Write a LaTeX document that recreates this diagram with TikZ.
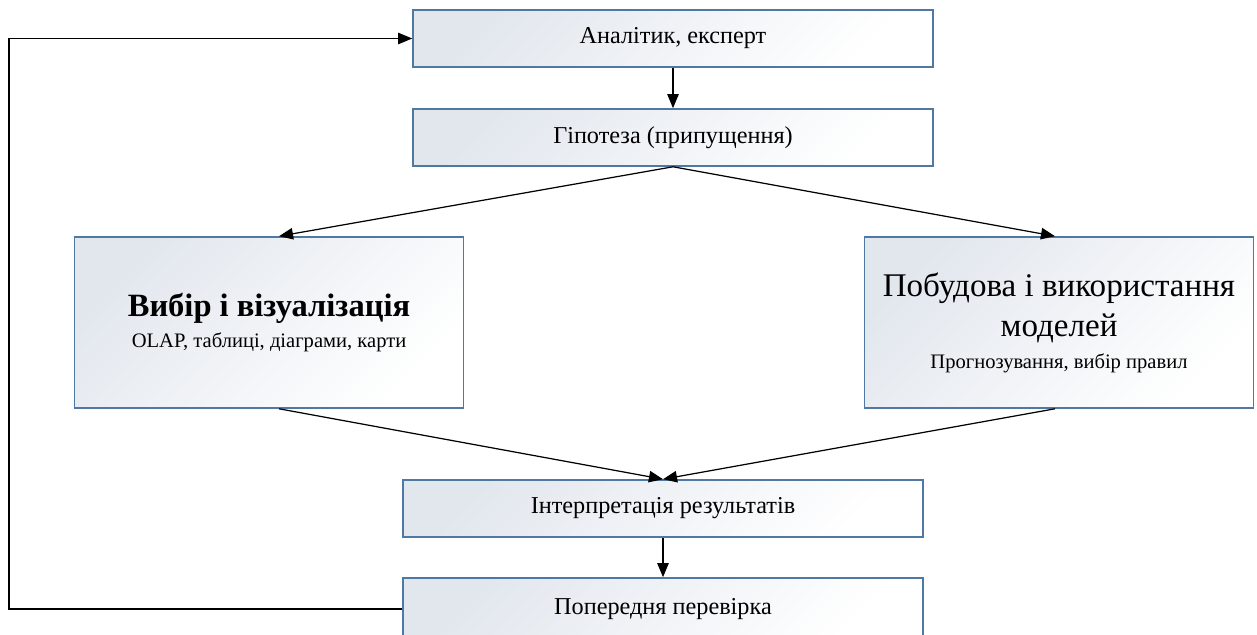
\documentclass[tikz,border=0pt]{standalone}
\usepackage{fontspec}
\setmainfont{Liberation Serif}
\usetikzlibrary{arrows.meta}
\definecolor{boxline}{RGB}{79,120,163}
\definecolor{boxfill}{RGB}{226,231,238}
\newcommand{\bigtxt}{\fontsize{18.8}{22}\selectfont}
\newcommand{\smalltxt}{\fontsize{11.7}{14}\selectfont}

\begin{document}
\begin{tikzpicture}[
  box/.style={draw=boxline, line width=0.9pt, top color=boxfill, bottom color=white, shading angle=45, align=center, inner sep=2pt, font=\fontsize{13.8}{16}\selectfont},
  stepbox/.style={box, minimum width=10.4cm, minimum height=1.14cm},
  bigbox/.style={box, minimum width=7.78cm, minimum height=3.42cm},
  arr/.style={-{Triangle[length=8pt,width=6.5pt]}, line width=0.7pt, draw=black}
]
  \useasboundingbox (0,0) rectangle (25.14,12.7);

  % Верхні блоки
  \node[stepbox] (expert) at (13.46,11.93) {Аналітик, експерт};
  \node[stepbox] (hyp) at (13.46,9.95) {Гіпотеза (припущення)};

  % Два напрями аналізу
  \node[bigbox] (vis) at (5.38,6.25) {{\bfseries\fontsize{18.5}{21}\selectfont Вибір і візуалізація}\\[2pt]{\smalltxt OLAP, таблиці, діаграми, карти}};
  \node[bigbox] (model) at (21.18,6.25) {{\bigtxt Побудова і використання}\\[5pt]{\bigtxt моделей}\\[2pt]{\smalltxt Прогнозування, вибір правил}};

  % Нижні блоки
  \node[stepbox] (interp) at (13.26,2.53) {Інтерпретація результатів};
  \node[stepbox, minimum height=1.24cm] (check) at (13.26,0.52) {Попередня перевірка};

  % Стрілки
  \draw[arr] (expert) -- (hyp);
  \draw[arr] (hyp.south) -- ([xshift=0.2cm]vis.north);
  \draw[arr] (hyp.south) -- ([xshift=-0.08cm]model.north);
  \draw[arr] ([xshift=0.2cm]vis.south) -- (interp.north);
  \draw[arr] ([xshift=-0.08cm]model.south) -- (interp.north);
  \draw[arr] (interp) -- (check);

  % Зворотний зв'язок
  \draw[arr] (check.west) -| (0.18,11.93) -- (expert.west);
\end{tikzpicture}
\end{document}
